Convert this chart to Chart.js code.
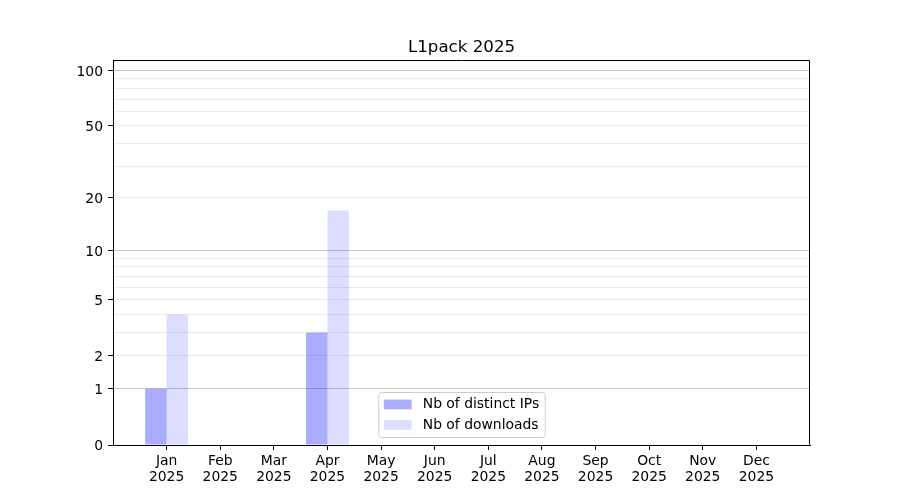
<!DOCTYPE html>
<html>
<head>
<meta charset="utf-8">
<title>L1pack 2025</title>
<script src="https://cdn.jsdelivr.net/npm/chart.js@4/dist/chart.umd.min.js"></script>
<style>
  html, body { margin: 0; padding: 0; background: #ffffff; }
  #chart { display: block; }
</style>
</head>
<body>
<canvas id="chart" width="900" height="500"></canvas>
<script>
// Data
const months = ['Jan', 'Feb', 'Mar', 'Apr', 'May', 'Jun', 'Jul', 'Aug', 'Sep', 'Oct', 'Nov', 'Dec'];
const yearLabel = '2025';
const distinctIps = [1, 0, 0, 3, 0, 0, 0, 0, 0, 0, 0, 0];
const downloads = [4, 0, 0, 17, 0, 0, 0, 0, 0, 0, 0, 0];

// y axis ticks (symlog-like, log10(1 + v))
const yGridValues = [0, 1, 2, 3, 4, 5, 6, 7, 8, 9, 10, 20, 30, 40, 50, 60, 70, 80, 90, 100];
const yLabelled = [0, 1, 2, 5, 10, 20, 50, 100];
const yMajor = [1, 10, 100];
const yMax = 114;

const chartTitle = 'L1pack 2025';
const FONT = 'DejaVu Sans';
const TICK_SIZE = 13.9;

// Custom scale: position = log10(1 + value)
const BaseLinear = Chart.LinearScale || Chart.registry.getScale('linear');
class Log1pScale extends BaseLinear {
    buildTicks() {
        return yGridValues.filter(v => v >= this.min && v <= this.max).map(v => ({ value: v }));
    }
    configure() {
        super.configure();
        this._lStart = Math.log10(1 + this.min);
        this._lRange = Math.log10(1 + this.max) - this._lStart;
    }
    getPixelForValue(value) {
        if (value === null || value === undefined || isNaN(value)) return NaN;
        return this.getPixelForDecimal((Math.log10(1 + value) - this._lStart) / this._lRange);
    }
    getValueForPixel(pixel) {
        return Math.pow(10, this._lStart + this.getDecimalForPixel(pixel) * this._lRange) - 1;
    }
}
Log1pScale.id = 'log1p';
Log1pScale.defaults = BaseLinear.defaults;
Chart.register(Log1pScale);

// full box around the plot area + title centred over the plot
const frameBox = {
    id: 'frameBox',
    afterDatasetsDraw(chart) {
        const a = chart.chartArea;
        const ctx = chart.ctx;
        ctx.save();
        ctx.strokeStyle = '#000000';
        ctx.lineWidth = 1;
        ctx.beginPath();
        ctx.moveTo(Math.round(a.left) + 0.5, Math.round(a.top) + 0.5);
        ctx.lineTo(Math.round(a.right) - 0.5, Math.round(a.top) + 0.5);
        ctx.lineTo(Math.round(a.right) - 0.5, Math.round(a.bottom) - 0.5);
        ctx.stroke();

        ctx.fillStyle = '#000000';
        ctx.font = '16.67px "' + FONT + '"';
        ctx.textAlign = 'center';
        ctx.textBaseline = 'middle';
        ctx.fillText(chartTitle, (a.left + a.right) / 2, a.top - 12.5);
        ctx.restore();
    }
};

// legend drawn inside the plot, lower centre
const innerLegend = {
    id: 'innerLegend',
    afterDraw(chart) {
        const a = chart.chartArea;
        const ctx = chart.ctx;
        const sets = chart.data.datasets;
        ctx.save();
        ctx.font = TICK_SIZE + 'px "' + FONT + '"';
        let textW = 0;
        sets.forEach(ds => { textW = Math.max(textW, ctx.measureText(ds.label).width); });
        const pad = 5.6, handle = 27.8, gap = 11.1;
        const boxW = pad * 2 + handle + gap + textW;
        const boxH = 45;
        const left = (a.left + a.right) / 2 - boxW / 2;
        const top = a.bottom - 8 - boxH;

        ctx.beginPath();
        ctx.roundRect(left + 0.5, top + 0.5, boxW, boxH, 3);
        ctx.fillStyle = 'rgba(255,255,255,0.8)';
        ctx.fill();
        ctx.strokeStyle = '#cccccc';
        ctx.lineWidth = 1;
        ctx.stroke();

        const rows = [top + 12.5, top + 33];
        sets.forEach((ds, i) => {
            const cy = rows[i];
            ctx.fillStyle = ds.backgroundColor;
            ctx.fillRect(left + pad, cy - 4.9, handle, 9.7);
            ctx.fillStyle = '#000000';
            ctx.textBaseline = 'middle';
            ctx.textAlign = 'left';
            ctx.fillText(ds.label, left + pad + handle + gap, cy);
        });
        ctx.restore();
    }
};

new Chart(document.getElementById('chart').getContext('2d'), {
    type: 'bar',
    data: {
        datasets: [
            {
                label: 'Nb of distinct IPs',
                data: distinctIps.map((v, i) => ({ x: i, y: v })),
                backgroundColor: 'rgba(0, 0, 255, 0.33)',
                borderWidth: 0
            },
            {
                label: 'Nb of downloads',
                data: downloads.map((v, i) => ({ x: i, y: v })),
                backgroundColor: 'rgba(0, 0, 255, 0.135)',
                borderWidth: 0
            }
        ]
    },
    options: {
        responsive: false,
        animation: false,
        categoryPercentage: 0.8,
        barPercentage: 1.0,
        layout: { padding: { left: 0, right: 90, top: 60, bottom: 0 } },
        plugins: {
            legend: { display: false },
            tooltip: { enabled: false },
            title: { display: false }
        },
        scales: {
            x: {
                type: 'linear',
                min: -1,
                max: 12,
                offset: false,
                afterBuildTicks: scale => {
                    scale.ticks = months.map((m, i) => ({ value: i }));
                },
                afterFit: scale => { scale.height = 55; },
                grid: {
                    offset: false,
                    drawOnChartArea: false,
                    drawTicks: true,
                    tickLength: 5,
                    tickColor: '#000000'
                },
                border: { display: true, color: '#000000', width: 1 },
                ticks: {
                    autoSkip: false,
                    maxRotation: 0,
                    padding: 3,
                    color: '#000000',
                    font: { family: FONT, size: TICK_SIZE, lineHeight: 1.15 },
                    callback: value => [months[value], yearLabel]
                }
            },
            y: {
                type: 'log1p',
                min: 0,
                max: yMax,
                afterFit: scale => { scale.width = 113; },
                grid: {
                    drawTicks: true,
                    tickLength: 5,
                    lineWidth: 1,
                    color: c => yMajor.includes(c.tick.value) ? '#c8c8c8' : '#ebebeb',
                    tickColor: c => yLabelled.includes(c.tick.value) ? '#000000' : 'rgba(0,0,0,0)'
                },
                border: { display: true, color: '#000000', width: 1 },
                ticks: {
                    autoSkip: false,
                    padding: 5,
                    labelOffset: 1.5,
                    color: '#000000',
                    font: { family: FONT, size: TICK_SIZE },
                    callback: value => yLabelled.includes(value) ? String(value) : ''
                }
            }
        }
    },
    plugins: [frameBox, innerLegend]
});
</script>
</body>
</html>
